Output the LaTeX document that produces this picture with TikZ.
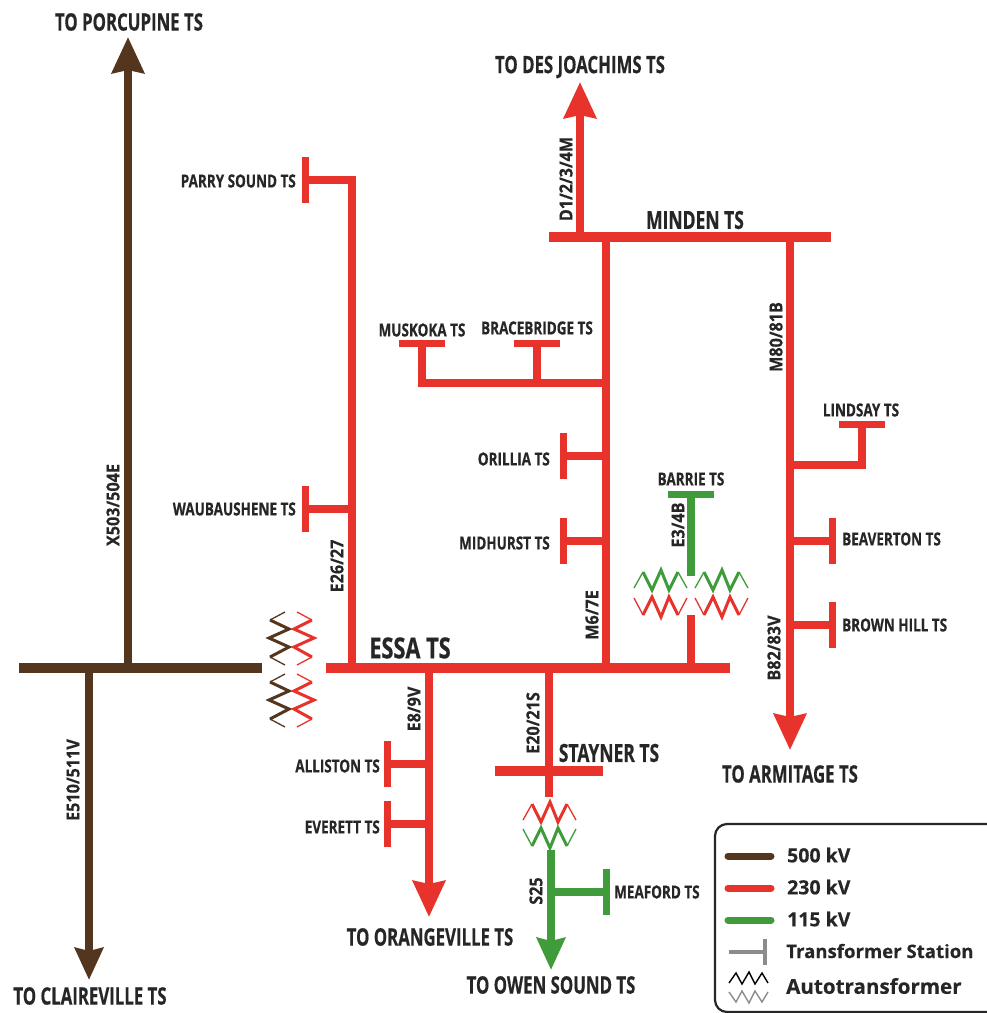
\documentclass[tikz,border=0pt]{standalone}
\usepackage{fontspec}
\setmainfont{Open Sans}
\newfontfamily\labelfont[FakeStretch=0.75,FakeBold=0.5]{Open Sans Bold}
\newfontfamily\tofont[FakeStretch=0.70,FakeBold=0.5]{Open Sans Bold}
\newfontfamily\rotfont[FakeStretch=0.90,FakeBold=0.3]{Open Sans Bold}
\newfontfamily\legendfont[FakeStretch=1.0,FakeBold=0.3]{Open Sans Bold}
\usetikzlibrary{arrows.meta,calc,positioning}
\definecolor{kvbrown}{HTML}{54361F}
\definecolor{kvred}{HTML}{E8332C}
\definecolor{kvgreen}{HTML}{409C3A}
\definecolor{kvgray}{HTML}{8C8C8C}
\tikzset{
  bus/.style={line width=10.5pt},
  feeder/.style={line width=7.5pt},
  station/.style={line width=7pt},
  headbig/.style={-{Stealth[length=36pt,width=32pt,inset=3pt]}},
  headsmall/.style={-{Stealth[length=32pt,width=28pt,inset=3pt]}},
  lbl/.style={inner sep=0pt,font=\labelfont\fontsize{18}{18}\selectfont,text=black!85},
  rotlbl/.style={inner sep=0pt,rotate=90,font=\rotfont\fontsize{18}{18}\selectfont,text=black!85},
  tolbl/.style={inner sep=0pt,font=\tofont\fontsize{24}{24}\selectfont,text=black!85},
  keytxt/.style={inner sep=0pt,anchor=west,font=\legendfont\fontsize{19.5}{20}\selectfont,text=black!85},
  keyline/.style={line width=7pt,line cap=round},
  zigup/.pic={
    \draw[pic actions,line width=3pt,miter limit=10] (9,2) -- (18,20) -- (27,0) -- (35,20) -- (44,2);
    \draw[pic actions,line width=1.3pt] (0,18) -- (9,2);
    \draw[pic actions,line width=1.3pt] (44,2) -- (53,18);
  },
  zigdown/.pic={
    \draw[pic actions,line width=3pt,miter limit=10] (9,20) -- (18,2) -- (27,22) -- (35,2) -- (44,20);
    \draw[pic actions,line width=1.3pt] (0,3) -- (9,20);
    \draw[pic actions,line width=1.3pt] (44,20) -- (53,3);
  },
  zigleft/.pic={
    \draw[pic actions,line width=3pt,miter limit=10] (-15,8) -- (4,17) -- (-16,26) -- (4,35) -- (-15,45);
    \draw[pic actions,line width=1.3pt] (0,0) -- (-15,8);
    \draw[pic actions,line width=1.3pt] (-15,45) -- (0,53);
  },
  zigright/.pic={
    \draw[pic actions,line width=3pt,miter limit=10] (15,8) -- (-3,17) -- (17,26) -- (-3,35) -- (15,45);
    \draw[pic actions,line width=1.3pt] (0,0) -- (15,8);
    \draw[pic actions,line width=1.3pt] (15,45) -- (0,53);
  },
  zigkey/.pic={
    \draw[pic actions,line width=1.4pt] (0,11) -- (7,1) -- (13,12) -- (20,0) -- (26,12) -- (33,1) -- (39,11);
  },
  zigkeydown/.pic={
    \draw[pic actions,line width=1.4pt] (0,1) -- (7,11) -- (13,0) -- (20,12) -- (26,0) -- (33,11) -- (39,1);
  },
}
\begin{document}
\begin{tikzpicture}[x=1pt,y=-1pt]
        \useasboundingbox (0,0) rectangle (987,1013);
        %500 kV
        \coordinate (busW) at (19,668);
        \coordinate (busE) at (262,668);
        \coordinate (porc0) at (128,668);
        \coordinate (porc) at (128,37);
        \coordinate (clair0) at (89,668);
        \coordinate (clair) at (89,980);
        %Essa and Minden
        \coordinate (essaW) at (326,668);
        \coordinate (essaE) at (730,668);
        \coordinate (mindW) at (549,237);
        \coordinate (mindE) at (831,237);
        \coordinate (parry0) at (352,668);
        \coordinate (parry1) at (352,180);
        \coordinate (parry) at (305,180);
        \coordinate (wau0) at (352,509);
        \coordinate (wau) at (305,509);
        \coordinate (m67a) at (606,668);
        \coordinate (m67b) at (606,237);
        \coordinate (desj0) at (580,237);
        \coordinate (desj) at (580,82);
        \coordinate (arm0) at (790,237);
        \coordinate (arm) at (790,750);
        \coordinate (musk0) at (606,383);
        \coordinate (musk1) at (422,383);
        \coordinate (musk) at (422,343);
        \coordinate (brace0) at (537,383);
        \coordinate (brace) at (537,343);
        \coordinate (oril0) at (606,456);
        \coordinate (oril) at (563,456);
        \coordinate (mid0) at (606,541);
        \coordinate (mid) at (563,541);
        \coordinate (lind0) at (790,465);
        \coordinate (lind1) at (862,465);
        \coordinate (lind) at (862,424);
        \coordinate (beav0) at (790,541);
        \coordinate (beav) at (832,541);
        \coordinate (brown0) at (790,625);
        \coordinate (brown) at (832,625);
        \coordinate (barr0) at (691,668);
        \coordinate (barr1) at (691,615);
        \coordinate (barr2) at (691,576);
        \coordinate (barr) at (691,494);
        \coordinate (orange0) at (429,668);
        \coordinate (orange) at (429,917);
        \coordinate (alli0) at (429,764);
        \coordinate (alli) at (387,764);
        \coordinate (ever0) at (429,824);
        \coordinate (ever) at (387,824);
        \coordinate (stay0) at (549,668);
        \coordinate (stay1) at (549,797);
        \coordinate (stayW) at (495,771);
        \coordinate (stayE) at (603,771);
        \coordinate (owen0) at (551,850);
        \coordinate (owen) at (551,970);
        \coordinate (meaf0) at (551,892);
        \coordinate (meaf) at (606,892);
        %Draw lines
        \draw[kvbrown,bus] (busW) -- (busE);
        \draw[kvbrown,feeder,headbig] (porc0) -- (porc);
        \draw[kvbrown,feeder,headsmall] (clair0) -- (clair);
        \draw[kvred,feeder] (parry0) -- (parry1) -- (parry);
        \draw[kvred,feeder] (wau0) -- (wau);
        \draw[kvred,feeder] (m67a) -- (m67b);
        \draw[kvred,feeder,headbig] (desj0) -- (desj);
        \draw[kvred,feeder,headbig] (arm0) -- (arm);
        \draw[kvred,feeder] (musk0) -- (musk1) -- (musk);
        \draw[kvred,feeder] (brace0) -- (brace);
        \draw[kvred,feeder] (oril0) -- (oril);
        \draw[kvred,feeder] (mid0) -- (mid);
        \draw[kvred,feeder] (lind0) -- (lind1) -- (lind);
        \draw[kvred,feeder] (beav0) -- (beav);
        \draw[kvred,feeder] (brown0) -- (brown);
        \draw[kvred,feeder] (barr0) -- (barr1);
        \draw[kvgreen,feeder] (barr2) -- (barr);
        \draw[kvred,feeder,headbig] (orange0) -- (orange);
        \draw[kvred,feeder] (alli0) -- (alli);
        \draw[kvred,feeder] (ever0) -- (ever);
        \draw[kvred,feeder] (stay0) -- (stay1);
        \draw[kvgreen,feeder,headsmall] (owen0) -- (owen);
        \draw[kvgreen,feeder] (meaf0) -- (meaf);
        \draw[kvred,bus] (essaW) -- (essaE);
        \draw[kvred,bus] (mindW) -- (mindE);
        \draw[kvred,bus] (stayW) -- (stayE);
        %Station bars
        \draw[kvred,station] ($(parry)+(0,-23)$) -- ($(parry)+(0,23)$);
        \draw[kvred,station] ($(wau)+(0,-23)$) -- ($(wau)+(0,23)$);
        \draw[kvred,station] ($(oril)+(0,-23)$) -- ($(oril)+(0,23)$);
        \draw[kvred,station] ($(mid)+(0,-23)$) -- ($(mid)+(0,23)$);
        \draw[kvred,station] ($(beav)+(0,-23)$) -- ($(beav)+(0,23)$);
        \draw[kvred,station] ($(brown)+(0,-23)$) -- ($(brown)+(0,23)$);
        \draw[kvred,station] ($(alli)+(0,-23)$) -- ($(alli)+(0,23)$);
        \draw[kvred,station] ($(ever)+(0,-23)$) -- ($(ever)+(0,23)$);
        \draw[kvgreen,station] ($(meaf)+(0,-23)$) -- ($(meaf)+(0,23)$);
        \draw[kvred,station] ($(musk)+(-23,0)$) -- ($(musk)+(23,0)$);
        \draw[kvred,station] ($(brace)+(-23,0)$) -- ($(brace)+(23,0)$);
        \draw[kvred,station] ($(lind)+(-23,0)$) -- ($(lind)+(23,0)$);
        \draw[kvgreen,station] ($(barr)+(-23,0)$) -- ($(barr)+(23,0)$);
        %Autotransformers
        \pic[draw=kvbrown] at (285,612) {zigleft};
        \pic[draw=kvred] at (297,612) {zigright};
        \pic[draw=kvbrown] at (285,674) {zigleft};
        \pic[draw=kvred] at (297,674) {zigright};
        \pic[draw=kvgreen] at (634,570) {zigup};
        \pic[draw=kvred] at (634,595) {zigdown};
        \pic[draw=kvgreen] at (695,570) {zigup};
        \pic[draw=kvred] at (695,595) {zigdown};
        \pic[draw=kvred] at (523,802) {zigup};
        \pic[draw=kvgreen] at (523,826) {zigdown};
        %Draw labels
        \node[tolbl] (lporc) at (129,22) {TO PORCUPINE TS};
        \node[tolbl] (ldesj) at (580,67) {TO DES JOACHIMS TS};
        \node[tolbl] (larm) at (790,774) {TO ARMITAGE TS};
        \node[tolbl] (lorange) at (430,937) {TO ORANGEVILLE TS};
        \node[tolbl] (lowen) at (551,985) {TO OWEN SOUND TS};
        \node[tolbl] (lclair) at (90,996) {TO CLAIREVILLE TS};
        \node[tolbl,font=\tofont\fontsize{25}{25}\selectfont] (lmind) at (695,220) {MINDEN TS};
        \node[tolbl,font=\labelfont\fontsize{29}{29}\selectfont] (lessa) at (410,648) {ESSA TS};
        \node[tolbl,font=\tofont\fontsize{25}{25}\selectfont] (lstay) at (609,753) {STAYNER TS};
        \node[lbl,anchor=east] (lparry) at (296,181) {PARRY SOUND TS};
        \node[lbl,anchor=east] (lwau) at (296,509) {WAUBAUSHENE TS};
        \node[lbl] (lmusk) at (422,330) {MUSKOKA TS};
        \node[lbl] (lbrace) at (537,328) {BRACEBRIDGE TS};
        \node[lbl,anchor=east] (loril) at (550,459) {ORILLIA TS};
        \node[lbl,anchor=east] (lmid) at (550,543) {MIDHURST TS};
        \node[lbl] (lbarr) at (691,479) {BARRIE TS};
        \node[lbl] (llind) at (861,410) {LINDSAY TS};
        \node[lbl,anchor=west] (lbeav) at (842,539) {BEAVERTON TS};
        \node[lbl,anchor=west] (lbrown) at (842,625) {BROWN HILL TS};
        \node[lbl,anchor=east] (lalli) at (380,766) {ALLISTON TS};
        \node[lbl,anchor=east] (lever) at (380,827) {EVERETT TS};
        \node[lbl,anchor=west] (lmeaf) at (614,892) {MEAFORD TS};
        \node[rotlbl] (lx503) at (113,505) {X503/504E};
        \node[rotlbl] (ld1) at (566,179) {D1/2/3/4M};
        \node[rotlbl] (lm80) at (776,337) {M80/81B};
        \node[rotlbl] (le26) at (337,566) {E26/27};
        \node[rotlbl] (lm6) at (592,615) {M6/7E};
        \node[rotlbl] (le3) at (678,525) {E3/4B};
        \node[rotlbl] (lb82) at (774,648) {B82/83V};
        \node[rotlbl] (le8) at (414,709) {E8/9V};
        \node[rotlbl] (le20) at (533,723) {E20/21S};
        \node[rotlbl] (ls25) at (536,891) {S25};
        \node[rotlbl] (le510) at (73,780) {E510/511V};
        %Legend
        \draw[line width=2.2pt,black!85,rounded corners=12pt] (987,824) -- (715,824) -- (715,1012) -- (987,1012);
        \coordinate (key5a) at (728,856);
        \coordinate (key5b) at (771,856);
        \coordinate (key2a) at (728,888);
        \coordinate (key2b) at (771,888);
        \coordinate (key1a) at (728,920);
        \coordinate (key1b) at (771,920);
        \coordinate (keyTa) at (729,952);
        \coordinate (keyTb) at (765,952);
        \draw[kvbrown,keyline] (key5a) -- (key5b);
        \draw[kvred,keyline] (key2a) -- (key2b);
        \draw[kvgreen,keyline] (key1a) -- (key1b);
        \draw[kvgray,line width=4.5pt] (keyTa) -- (keyTb);
        \draw[kvgray,line width=4.5pt] ($(keyTb)+(0,-13)$) -- ($(keyTb)+(0,13)$);
        \pic[draw=black] at (729,972) {zigkey};
        \pic[draw=kvgray] at (729,991) {zigkeydown};
        \node[keytxt] (k500) at (787,855) {500 kV};
        \node[keytxt] (k230) at (787,887) {230 kV};
        \node[keytxt] (k115) at (787,919) {115 kV};
        \node[keytxt,font=\legendfont\fontsize{18.6}{19}\selectfont] (kstat) at (786,951) {Transformer Station};
        \node[keytxt,font=\legendfont\fontsize{20.6}{21}\selectfont] (kauto) at (786,986) {Autotransformer};
\end{tikzpicture}
\end{document}
